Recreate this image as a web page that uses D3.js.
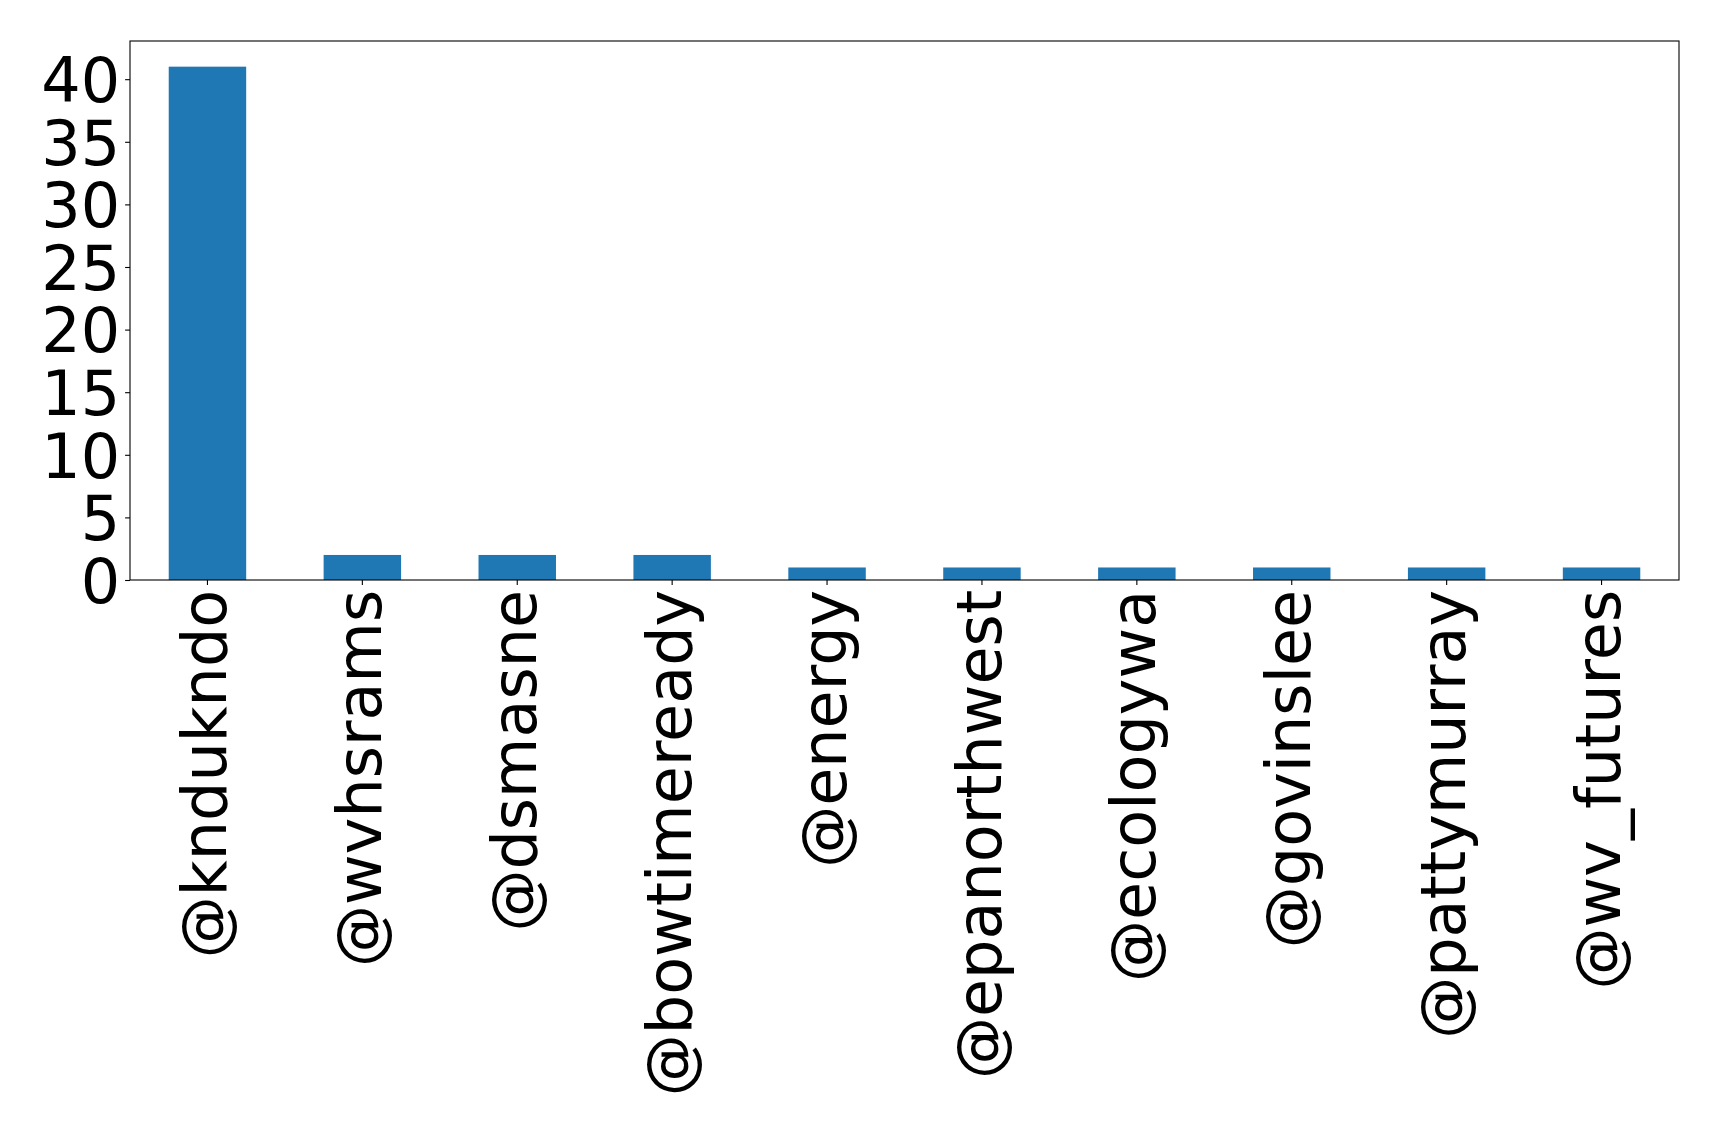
<!DOCTYPE html>
<html>
<head>
<meta charset="utf-8">
<script src="https://cdn.jsdelivr.net/npm/d3@7"></script>
<style>
  html, body { margin: 0; padding: 0; background: #fff; }
  svg { display: block; }
  text { font-family: "DejaVu Sans", sans-serif; fill: #000; }
</style>
</head>
<body>
<script>
const categories = ["@knduknd" + "o", "@wvhsrams", "@dsmasne", "@bowtimeready", "@energy",
  "@epanorthwest", "@ecologywa", "@govinslee", "@pattymurray", "@wv_futures"];
const values = [41, 2, 2, 2, 1, 1, 1, 1, 1, 1];
const yTicks = [0, 5, 10, 15, 20, 25, 30, 35, 40];

const W = 1719, H = 1139;
const m = { left: 130, right: W - 1679, top: 41, bottom: H - 580 };
const fontSize = 62;
const tickLen = 4.9, tickPad = 4.9;

const svg = d3.select("body").append("svg").attr("width", W).attr("height", H);
svg.append("rect").attr("width", W).attr("height", H).attr("fill", "#fff");

const x = d3.scaleBand().domain(categories).range([m.left, W - m.right]).paddingInner(0.5).paddingOuter(0.25);
const y = d3.scaleLinear().domain([0, d3.max(values) * 1.05]).range([H - m.bottom, m.top]);

svg.append("g").selectAll("rect").data(values).join("rect")
  .attr("x", (d, i) => x(categories[i]))
  .attr("width", x.bandwidth())
  .attr("y", d => y(d))
  .attr("height", d => y(0) - y(d))
  .attr("fill", "#1f77b4");

// frame
svg.append("rect")
  .attr("x", m.left).attr("y", m.top)
  .attr("width", W - m.right - m.left).attr("height", H - m.bottom - m.top)
  .attr("fill", "none").attr("stroke", "#000").attr("stroke-width", 1.1);

// y axis
const yAxis = d3.axisLeft(y).tickValues(yTicks).tickSize(tickLen).tickPadding(tickPad);
const gy = svg.append("g").attr("transform", `translate(${m.left},0)`).call(yAxis);
gy.select(".domain").remove();
gy.selectAll(".tick line").attr("stroke", "#000").attr("stroke-width", 1.1);
gy.selectAll(".tick text").attr("font-size", fontSize).attr("font-family", "DejaVu Sans").attr("dy", "0.36em");

// x axis
const xAxis = d3.axisBottom(x).tickSize(tickLen).tickPadding(tickPad);
const gx = svg.append("g").attr("transform", `translate(0,${H - m.bottom})`).call(xAxis);
gx.select(".domain").remove();
gx.selectAll(".tick line").attr("stroke", "#000").attr("stroke-width", 1.1);
gx.selectAll(".tick text")
  .attr("font-size", fontSize).attr("font-family", "DejaVu Sans")
  .attr("transform", `translate(0,${tickLen + tickPad}) rotate(-90)`)
  .attr("x", 0).attr("y", 0).attr("dy", "0.3em")
  .attr("text-anchor", "end");
</script>
</body>
</html>
